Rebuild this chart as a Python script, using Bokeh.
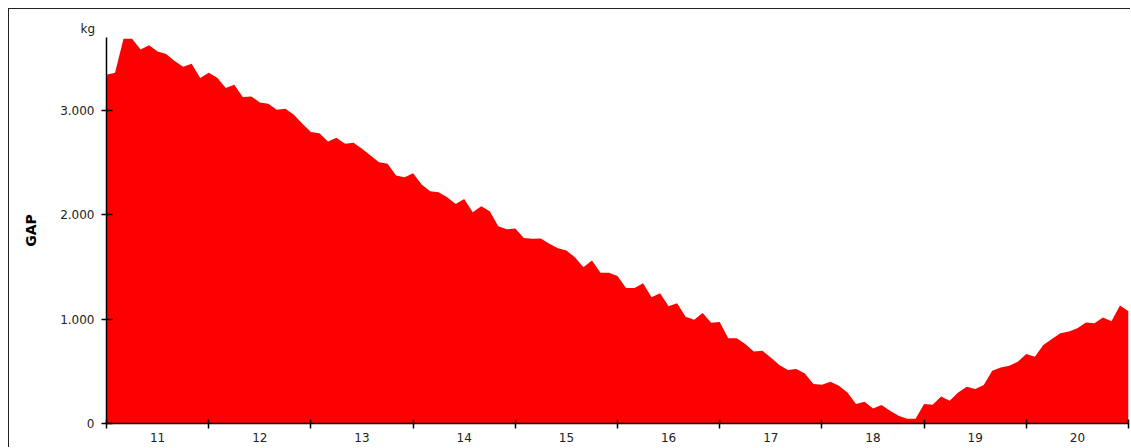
import numpy as np
from bokeh.plotting import figure
from bokeh.models import FixedTicker, Range1d
from bokeh.embed import file_html
from bokeh.resources import INLINE

# --- data -------------------------------------------------------------
years = [11, 12, 13, 14, 15, 16, 17, 18, 19, 20]
gap_kg = [
    3343, 3362, 3689, 3689, 3586, 3625, 3567, 3541, 3474, 3420, 3449, 3311,
    3363, 3315, 3215, 3248, 3129, 3135, 3078, 3065, 3008, 3017, 2960, 2873,
    2793, 2783, 2703, 2739, 2681, 2691, 2633, 2569, 2505, 2490, 2377, 2361,
    2399, 2291, 2226, 2217, 2169, 2105, 2153, 2025, 2083, 2035, 1891, 1862,
    1869, 1779, 1770, 1773, 1722, 1680, 1658, 1593, 1497, 1562, 1444, 1444,
    1414, 1299, 1299, 1344, 1209, 1248, 1123, 1152, 1024, 995, 1059, 966,
    973, 816, 816, 762, 691, 698, 633, 560, 512, 522, 480, 378,
    371, 400, 362, 298, 186, 208, 144, 177, 122, 74, 45, 45,
    186, 179, 259, 218, 298, 352, 330, 368, 506, 537, 554, 592,
    666, 640, 752, 810, 864, 883, 912, 969, 960, 1017, 979, 1130,
    1075,
]
y_ticks = [0, 1000, 2000, 3000]
y_tick_labels = ["0", "1.000", "2.000", "3.000"]
y_unit = "kg"
y_title = "GAP"

# --- derived positions (monthly steps) ----------------------------------
months = np.arange(len(gap_kg))
x = years[0] - 0.5 + months / 12.0
boundaries = [yr - 0.5 for yr in years] + [years[-1] + 0.5]

FONT = "DejaVu Sans"

p = figure(
    width=1122, height=439,
    output_backend="svg", toolbar_location=None,
    x_range=Range1d(boundaries[0], boundaries[-1]),
    y_range=Range1d(0, 3700),
    min_border_left=97, min_border_right=3,
    min_border_top=28, min_border_bottom=25,
)
p.styles = {
    "margin-left": "8px", "margin-top": "8px",
    "border-top": "1px solid #222", "border-left": "1px solid #222",
}

p.varea(x=x, y1=0, y2=gap_kg, fill_color="#ff0000", fill_alpha=1.0)

p.grid.visible = False
p.outline_line_color = None
p.background_fill_color = "white"
p.border_fill_color = "white"

# unit label above the y axis
p.title.text = y_unit
p.title.align = "left"
p.title.offset = -26
p.title.standoff = 4
p.title.text_font = FONT
p.title.text_font_size = "12px"
p.title.text_font_style = "normal"
p.title.text_color = "#222"

# x axis: labels at year centres, tick marks at year boundaries (minor)
xa = p.xaxis[0]
xa.ticker = FixedTicker(ticks=years, minor_ticks=boundaries)
xa.major_tick_line_color = None
xa.major_tick_out = 0
xa.major_tick_in = 0
xa.minor_tick_line_color = "black"
xa.minor_tick_line_width = 1.5
xa.minor_tick_in = 4
xa.minor_tick_out = 5
xa.axis_line_color = "black"
xa.axis_line_width = 1.5
xa.major_label_standoff = 4
xa.major_label_text_font = FONT
xa.major_label_text_font_size = "12px"
xa.major_label_text_color = "#222"

# y axis
ya = p.yaxis[0]
ya.ticker = FixedTicker(ticks=y_ticks)
ya.major_label_overrides = {t: s for t, s in zip(y_ticks, y_tick_labels)}
ya.minor_tick_line_color = None
ya.major_tick_in = 6
ya.major_tick_out = 5
ya.major_tick_line_color = "black"
ya.major_tick_line_width = 1.5
ya.axis_line_color = "black"
ya.axis_line_width = 1.5
ya.major_label_standoff = 7
ya.major_label_text_font = FONT
ya.major_label_text_font_size = "12px"
ya.major_label_text_color = "#222"
ya.axis_label = y_title
ya.axis_label_text_font = FONT
ya.axis_label_text_font_style = "bold"
ya.axis_label_text_font_size = "14px"
ya.axis_label_text_color = "black"
ya.axis_label_standoff = 18

open("out.html", "w").write(file_html(p, INLINE))
